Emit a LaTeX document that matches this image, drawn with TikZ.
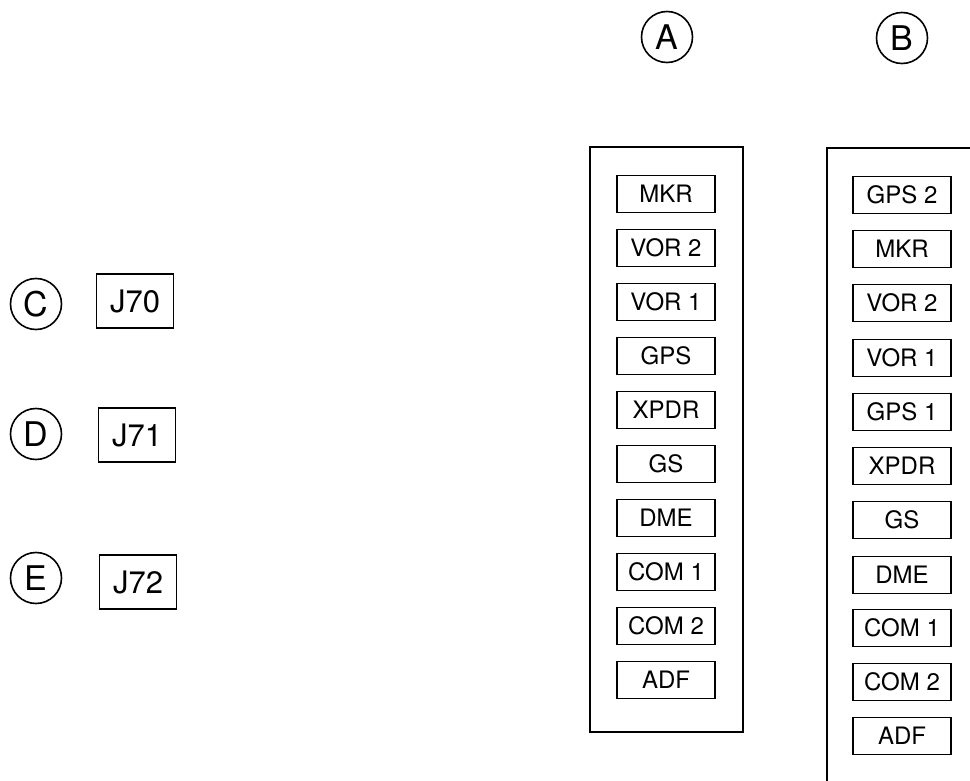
\documentclass[tikz,border=0pt]{standalone}
\usepackage{fontspec}
\setmainfont{TeX Gyre Heros}
\usetikzlibrary{positioning}

\begin{document}
\begin{tikzpicture}[x=1pt, y=-1pt,
  tag/.style={circle,draw,line width=1.6pt,minimum size=51pt,inner sep=0pt,font=\fontsize{34}{34}\selectfont},
  jack/.style={rectangle,draw,line width=1.7pt,minimum width=77pt,minimum height=54pt,inner sep=0pt,font=\fontsize{31}{31}\selectfont},
  slot/.style={rectangle,draw,line width=1.7pt,minimum width=98pt,minimum height=37pt,inner sep=0pt,font=\fontsize{24}{24}\selectfont},
  panel/.style={rectangle,draw,line width=1.7pt,minimum width=153pt,minimum height=585pt,inner sep=0pt}
]
  \useasboundingbox (0,0) rectangle (970,781);

  % view labels
  \node[tag](tagA) at (667,37) {A};
  \node[tag](tagB) at (902,38) {B};
  \node[tag](tagC) at (36,304) {C};
  \node[tag](tagD) at (36,434) {D};
  \node[tag](tagE) at (36,578) {E};

  % connectors
  \node[jack](j70) at (135,301) {J70};
  \node[jack](j71) at (137,435) {J71};
  \node[jack](j72) at (138,582) {J72};

  % panel A
  \node[panel](panA) at (666.5,439.5) {};
  \node[slot](a1)  at (666,194) {MKR};
  \node[slot](a2)  at (666,248) {VOR 2};
  \node[slot](a3)  at (666,302) {VOR 1};
  \node[slot](a4)  at (666,356) {GPS};
  \node[slot](a5)  at (666,410) {XPDR};
  \node[slot](a6)  at (666,464) {GS};
  \node[slot](a7)  at (666,518) {DME};
  \node[slot](a8)  at (666,572) {COM 1};
  \node[slot](a9)  at (666,626) {COM 2};
  \node[slot](a10) at (666,680) {ADF};

  % panel B (runs off the page)
  \coordinate (bTop) at (970,148);
  \coordinate (bCorner) at (827,148);
  \coordinate (bBot) at (827,781);
  \draw[line width=1.7pt] (bTop) -- (bCorner) -- (bBot);
  \node[slot](b1)  at (902,195) {GPS 2};
  \node[slot](b2)  at (902,249) {MKR};
  \node[slot](b3)  at (902,303) {VOR 2};
  \node[slot](b4)  at (902,358) {VOR 1};
  \node[slot](b5)  at (902,412) {GPS 1};
  \node[slot](b6)  at (902,466) {XPDR};
  \node[slot](b7)  at (902,520) {GS};
  \node[slot](b8)  at (902,575) {DME};
  \node[slot](b9)  at (902,628) {COM 1};
  \node[slot](b10) at (902,682) {COM 2};
  \node[slot](b11) at (902,736) {ADF};
\end{tikzpicture}
\end{document}
